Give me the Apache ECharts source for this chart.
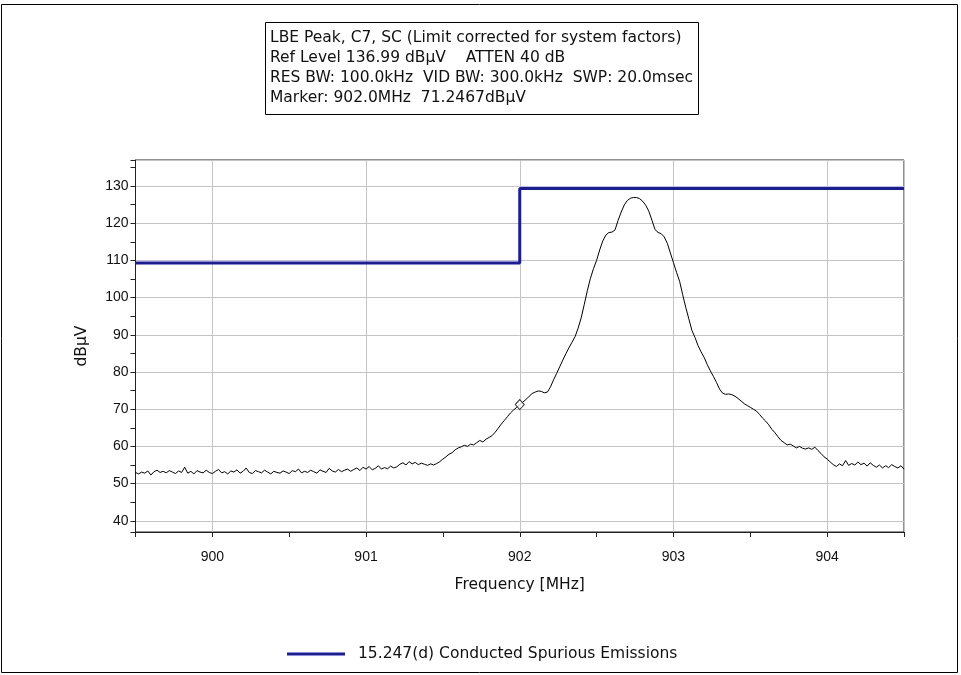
<!DOCTYPE html>
<html>
<head>
<meta charset="utf-8">
<script src="https://cdn.jsdelivr.net/npm/echarts@6/dist/echarts.min.js"></script>
<style>
html,body{margin:0;padding:0;background:#fff;}
#chart{width:961px;height:675px;}
</style>
</head>
<body>
<div id="chart"></div>
<script>
// ---------- data ----------
const headerLines = [
  'LBE Peak, C7, SC (Limit corrected for system factors)',
  'Ref Level 136.99 dBµV    ATTEN 40 dB',
  'RES BW: 100.0kHz  VID BW: 300.0kHz  SWP: 20.0msec',
  'Marker: 902.0MHz  71.2467dBµV'
];
const limitName = '15.247(d) Conducted Spurious Emissions';
const limitFreq = [899.5, 902.0, 902.0, 904.5];
const limitLevel = [109.3, 109.3, 129.3, 129.3];

const markerFreq = 902.0;
const markerLevel = 71.2467;

// sweep: 899.50 MHz start, 0.02 MHz step
const sweepStart = 899.5;
const sweepStep = 0.02;
const traceLevel = [
  53.0, 52.6, 53.1, 52.8, 53.4, 52.3, 53.2, 53.6, 53.0, 53.3,
  52.9, 53.5, 53.1, 52.7, 53.4, 53.0, 54.4, 52.8, 53.3, 52.6,
  53.5, 53.1, 52.9, 53.6, 53.0, 52.7, 53.3, 53.8, 52.9, 53.2,
  52.6, 53.4, 53.1, 53.7, 52.8, 53.3, 54.2, 53.0, 52.7, 53.5,
  53.2, 52.9, 53.6, 53.1, 52.6, 53.3, 53.0, 52.8, 53.4, 53.1,
  52.7, 53.5, 53.2, 53.9, 52.9, 53.3, 53.0, 53.6, 53.2, 52.8,
  53.7, 53.3, 53.0, 54.1, 53.4, 53.1, 53.8, 53.2, 53.6, 53.9,
  53.3,
  53.8, 54.2, 53.5, 54.4, 53.9, 54.6, 53.7, 54.1, 54.8, 53.9, 54.3, 54.0, 54.7, 54.2, 54.5,
  55.2, 55.6, 55.0, 55.9, 55.3, 55.7, 55.1, 55.5, 55.2, 54.9, 55.3, 55.0,
  55.4, 55.9, 56.6, 57.2, 57.9, 58.3, 59.1, 59.6, 59.9, 60.3,
  60.0, 60.6, 60.4, 61.0, 61.6, 61.2, 61.9, 62.4, 62.9, 63.8,
  64.9, 66.0, 67.0, 68.0, 69.0, 69.8, 70.5, 71.2, 71.9, 72.6,
  73.4, 74.2, 74.6, 74.9, 74.8, 74.4, 74.6, 76.0, 77.9, 79.6,
  81.4, 83.2, 84.9, 86.5, 88.0, 89.5, 91.8, 94.6, 98.2, 101.9,
  105.2, 107.8, 110.0, 112.8, 115.2, 116.8, 117.5, 117.6, 118.2, 120.8,
  123.0, 124.9, 126.1, 126.7, 126.9, 126.9, 126.6, 125.9, 124.8, 123.2,
  120.8, 118.3, 117.5, 117.2, 116.3, 114.6, 112.0, 109.4, 106.8, 104.4,
  100.8, 97.4, 94.3, 91.2, 89.3, 87.1, 85.4, 83.9, 82.0, 80.3,
  78.8, 77.2, 75.4, 74.3, 74.0, 74.1, 73.9, 73.5, 72.9, 72.2,
  71.5, 71.0, 70.5, 70.0, 69.5, 68.6, 67.6, 66.8, 65.8, 64.6,
  63.7, 62.6, 61.6, 61.0, 60.4, 60.6, 60.1, 59.6, 60.0, 59.5,
  59.3, 59.6, 59.2, 59.8, 58.9, 58.1, 57.2, 56.6, 55.8, 55.1,
  54.6, 55.3, 54.8, 56.2, 54.9, 55.4, 55.0, 55.8, 55.1, 55.5,
  54.7, 55.6, 54.9, 54.4, 55.0, 54.2, 54.8, 54.3, 55.1, 54.6,
  54.2, 54.8, 53.9
];

const xMin = 899.5, xMax = 904.5;
const yMin = 36.99, yMax = 136.99;

// ---------- build ----------
const FONT = 'Liberation Sans';
const FONT2 = 'DejaVu Sans';
const tracePairs = traceLevel.map((v, i) => [+(sweepStart + i * sweepStep).toFixed(3), v]);
const limitPairs = limitFreq.map((f, i) => [f, limitLevel[i]]);

const chart = echarts.init(document.getElementById('chart'), null, {renderer: 'canvas'});

const isWhole = (v, step) => Math.abs(v / step - Math.round(v / step)) < 1e-6;

const headerGraphics = [{
  type: 'rect',
  shape: {x: 265.5, y: 22.5, width: 433, height: 92},
  style: {fill: '#fff', stroke: '#000', lineWidth: 1},
  z: 10
}].concat(headerLines.map((t, i) => ({
  type: 'text',
  x: 270, y: 38 + i * 20,
  style: {text: t, fill: '#111', font: '15.5px "' + FONT2 + '"', textVerticalAlign: 'middle'},
  z: 11
})));

const option = {
  animation: false,
  backgroundColor: '#fff',
  textStyle: {fontFamily: FONT},
  graphic: [{
    type: 'rect',
    shape: {x: 1.5, y: 4.5, width: 956, height: 668},
    style: {fill: 'none', stroke: '#000', lineWidth: 1},
    silent: true
  }].concat(headerGraphics),
  grid: {
    left: 135.5, top: 160, right: 57, bottom: 143,
    show: true, borderColor: '#222', borderWidth: 1, backgroundColor: '#fff'
  },
  legend: {
    data: [limitName],
    left: 282, top: 641,
    icon: 'rect', itemWidth: 58, itemHeight: 3, itemGap: 10,
    textStyle: {fontSize: 15.5, color: '#111', fontFamily: FONT2, padding: [0, 0, 0, 8]}
  },
  xAxis: [{
    type: 'value', min: xMin, max: xMax, interval: 0.5,
    name: 'Frequency [MHz]', nameLocation: 'middle', nameGap: 45,
    nameTextStyle: {fontSize: 15.5, color: '#111', fontFamily: FONT2},
    axisLine: {show: true, lineStyle: {color: '#222', width: 1}},
    axisTick: {show: true, length: 5, lineStyle: {color: '#222'}},
    axisLabel: {
      fontSize: 14, color: '#111', margin: 18, fontFamily: FONT,
      formatter: v => isWhole(v, 1) ? String(Math.round(v)) : ''
    },
    splitLine: {show: false}
  }, {
    type: 'value', min: xMin, max: xMax, splitNumber: 5, position: 'top',
    axisLine: {show: false}, axisTick: {show: false}, axisLabel: {show: false},
    splitLine: {show: true, lineStyle: {color: '#c4c4c4', width: 1}}
  }],
  yAxis: [{
    type: 'value', min: yMin, max: yMax, splitNumber: 20,
    name: 'dBµV', nameLocation: 'middle', nameGap: 46,
    nameTextStyle: {fontSize: 15.5, color: '#111', fontFamily: FONT2},
    axisLine: {show: true, lineStyle: {color: '#222', width: 1}},
    axisTick: {show: true, length: 5, lineStyle: {color: '#222'}},
    axisLabel: {
      fontSize: 14, color: '#111', margin: 7, fontFamily: FONT,
      formatter: v => isWhole(v, 10) ? String(Math.round(v)) : ''
    },
    splitLine: {show: false}
  }, {
    type: 'value', min: yMin, max: yMax, splitNumber: 10, position: 'right',
    axisLine: {show: false}, axisTick: {show: false}, axisLabel: {show: false},
    splitLine: {show: true, lineStyle: {color: '#c4c4c4', width: 1}}
  }],
  series: [{
    name: limitName, type: 'line', data: limitPairs,
    xAxisIndex: 0, yAxisIndex: 0,
    symbol: 'none', color: '#1a1aa8',
    lineStyle: {color: '#1a1aa8', width: 3}, z: 4
  }, {
    name: 'Trace', type: 'line', data: tracePairs,
    xAxisIndex: 0, yAxisIndex: 0,
    symbol: 'none', color: '#000',
    lineStyle: {color: '#000', width: 1}, z: 3
  }, {
    name: 'Marker', type: 'scatter', data: [[markerFreq, markerLevel]],
    xAxisIndex: 0, yAxisIndex: 0,
    symbol: 'diamond', symbolSize: [9, 10],
    itemStyle: {color: '#fff', borderColor: '#000', borderWidth: 1}, z: 5
  }]
};
chart.setOption(option);
</script>
</body>
</html>
